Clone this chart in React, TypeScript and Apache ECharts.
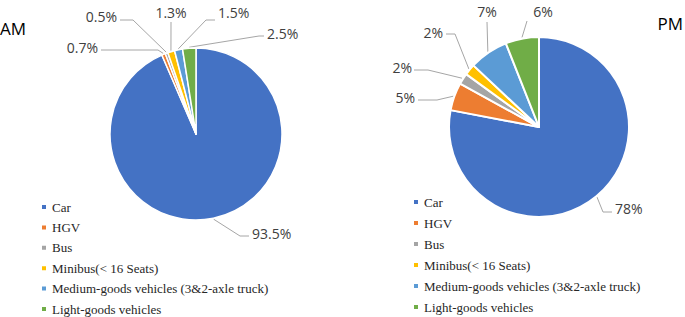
import React, { useEffect, useRef } from "react";
import * as echarts from "echarts";

const categories = [
  "Car",
  "HGV",
  "Bus",
  "Minibus(< 16 Seats)",
  "Medium-goods vehicles (3&2-axle truck)",
  "Light-goods vehicles",
];
const amValues = [93.5, 0.7, 0.5, 1.3, 1.5, 2.5];
const pmValues = [78, 5, 2, 2, 7, 6];
const colors = ["#4472C4", "#ED7D31", "#A5A5A5", "#FFC000", "#5B9BD5", "#70AD47"];

// label placement: [x, y, align, elbowX, elbowY, endX, endY]
const amLabelPos: [number, number, string, number, number, number, number][] = [
  [252, 233, "left", 240, 236, 249, 236],
  [98, 47, "right", 158, 50, 101, 50],
  [117, 16, "right", 133, 20, 120, 20],
  [171, 12, "center", 171, 22, 171, 22],
  [218, 12, "left", 206, 20, 215, 20],
  [267, 33, "left", 259, 36, 264, 36],
];
const pmLabelPos: [number, number, string, number, number, number, number][] = [
  [615, 208, "left", 603, 212, 612, 212],
  [415, 97, "right", 437, 100, 418, 100],
  [412, 67, "right", 428, 70, 414, 70],
  [443, 32, "right", 455, 34, 446, 34],
  [487, 11, "center", 487, 22, 487, 22],
  [543, 11, "center", 527, 21, 527, 21],
];

const AM_CENTER = [196, 134];
const AM_R = 86;
const PM_CENTER = [539, 127];
const PM_R = 90;

function edgePoint(values: number[], idx: number, c: number[], r: number) {
  const total = values.reduce((a, b) => a + b, 0);
  let cum = 0;
  for (let i = 0; i < idx; i++) cum += values[i];
  const mid = (cum + values[idx] / 2) / total;
  const th = mid * Math.PI * 2;
  return [c[0] + r * Math.sin(th), c[1] - r * Math.cos(th)];
}

function makeLayout(values: number[], pos: any[], c: number[], r: number) {
  return (params: any) => {
    const i = params.dataIndex;
    const p = pos[i];
    const e = edgePoint(values, i, c, r + 1);
    return {
      x: p[0],
      y: p[1],
      align: p[2],
      verticalAlign: "middle",
      labelLinePoints: [
        [e[0], e[1]],
        [p[3], p[4]],
        [p[5], p[6]],
      ],
    };
  };
}

function buildData(values: number[]) {
  return categories.map((name, i) => ({
    name,
    value: values[i],
    itemStyle: { color: colors[i] },
  }));
}

function legendOf(left: number, top: number, gap: number) {
  return {
    orient: "vertical",
    icon: "rect",
    itemWidth: 6,
    itemHeight: 6,
    left,
    top,
    itemGap: gap,
    data: categories.map((name) => ({
      name,
      textStyle: {
        fontFamily: "Liberation Serif, Times New Roman, serif",
        fontSize: 13,
        lineHeight: 14,
        color: "#262626",
      },
    })),
    selectedMode: false,
    padding: 0,
    textStyle: {
      fontFamily: "Liberation Serif, Times New Roman, serif",
      fontSize: 13,
      lineHeight: 14,
      color: "#262626",
    },
  };
}

function labelStyle() {
  return {
    show: true,
    position: "outside",
    formatter: (p: any) => p.value + "%",
    fontFamily: "Open Sans",
    fontSize: 14,
    color: "#404040",
  };
}

export default function App() {
  const ref = useRef<HTMLDivElement>(null);
  useEffect(() => {
    document.body.style.margin = "0";
    const chart = echarts.init(ref.current!, undefined, { renderer: "svg" });
    chart.setOption({
      animation: false,
      title: [
        {
          text: "AM",
          left: 0,
          top: 18,
          padding: 0,
          textStyle: { fontFamily: "Open Sans", fontSize: 17, fontWeight: "normal", color: "#000", lineHeight: 20 },
        },
        {
          text: "PM",
          right: 2,
          top: 13,
          padding: 0,
          textStyle: { fontFamily: "Open Sans", fontSize: 17, fontWeight: "normal", color: "#000", lineHeight: 20 },
        },
      ],
      legend: [legendOf(40, 200, 6.4), legendOf(412, 195, 7)],
      series: [
        {
          type: "pie",
          center: AM_CENTER,
          radius: AM_R,
          startAngle: 90,
          clockwise: true,
          avoidLabelOverlap: false,
          emphasis: { disabled: true },
          itemStyle: { borderColor: "#fff", borderWidth: 1.5 },
          label: labelStyle(),
          labelLine: { show: true, length: 10, length2: 10, lineStyle: { color: "#A6A6A6", width: 1 } },
          labelLayout: makeLayout(amValues, amLabelPos, AM_CENTER, AM_R),
          data: buildData(amValues),
        },
        {
          type: "pie",
          center: PM_CENTER,
          radius: PM_R,
          startAngle: 90,
          clockwise: true,
          avoidLabelOverlap: false,
          emphasis: { disabled: true },
          itemStyle: { borderColor: "#fff", borderWidth: 2 },
          label: labelStyle(),
          labelLine: { show: true, length: 10, length2: 10, lineStyle: { color: "#A6A6A6", width: 1 } },
          labelLayout: makeLayout(pmValues, pmLabelPos, PM_CENTER, PM_R),
          data: buildData(pmValues),
        },
      ],
    });
    return () => chart.dispose();
  }, []);
  return <div ref={ref} style={{ width: 685, height: 317 }} />;
}
